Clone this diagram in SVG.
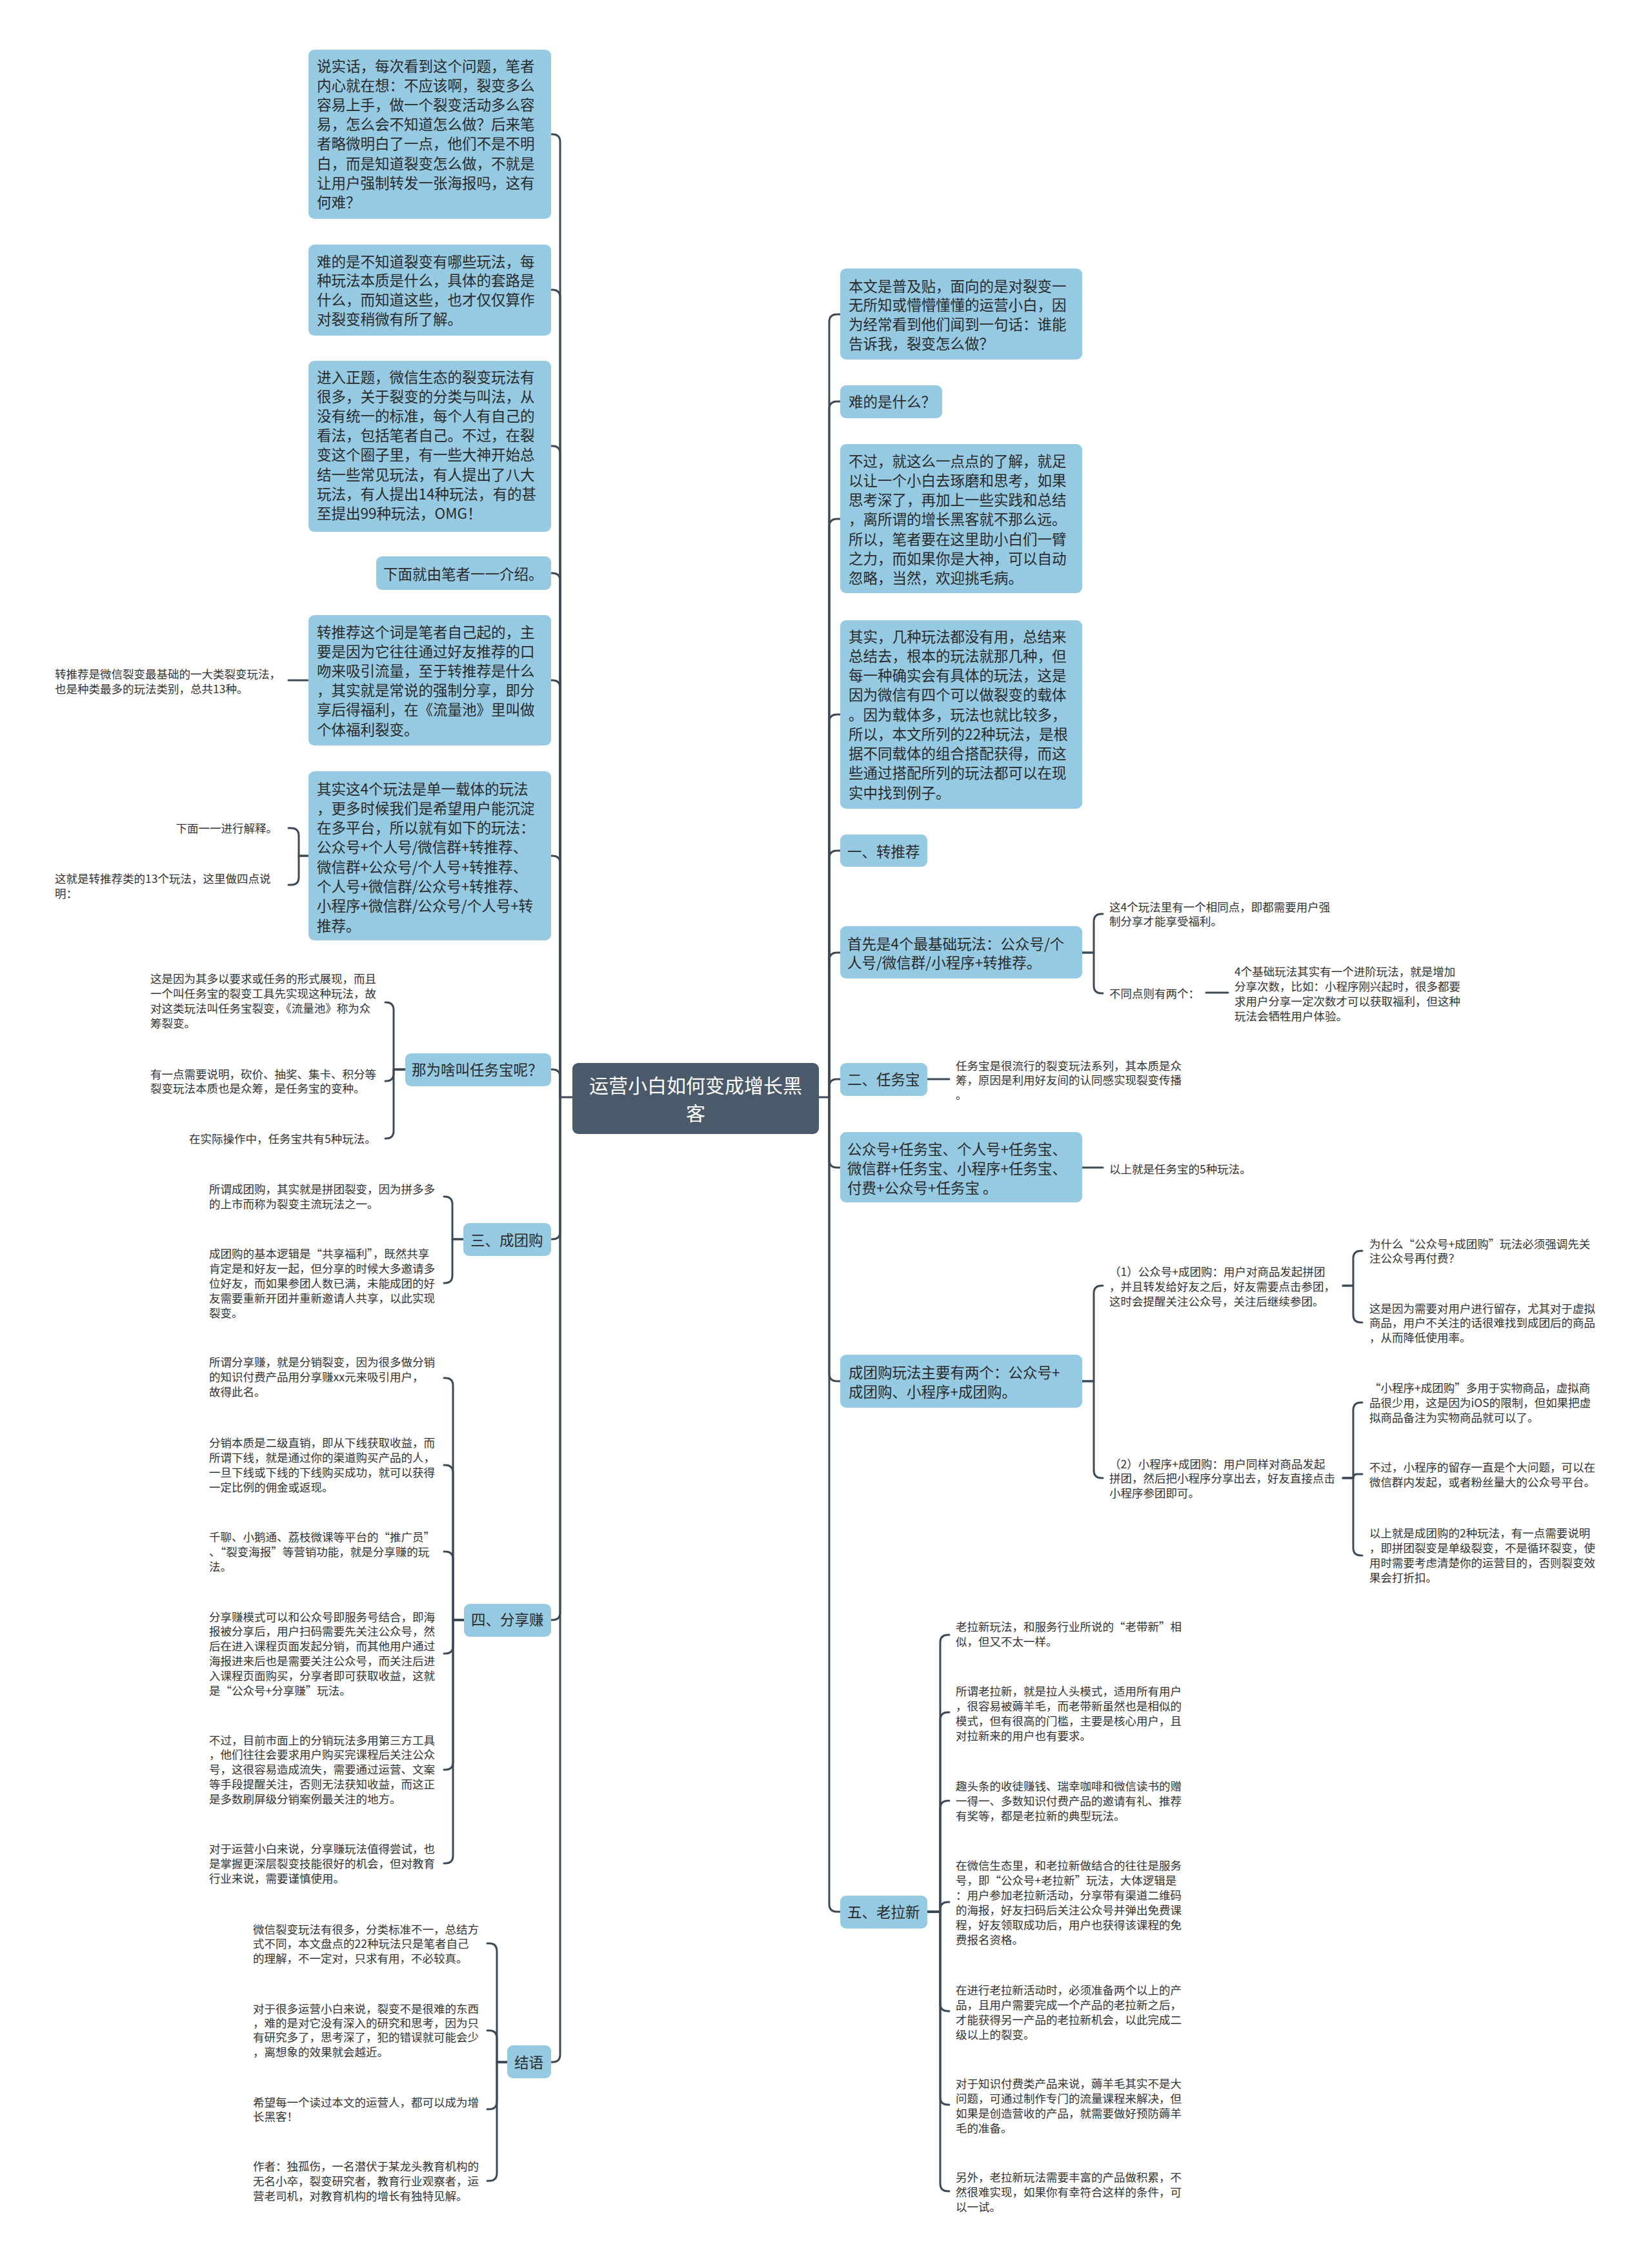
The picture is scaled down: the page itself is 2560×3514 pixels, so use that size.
<svg xmlns="http://www.w3.org/2000/svg" width="2560" height="3514" viewBox="0 0 2560 3514">
<style>
.bg{fill:#ffffff}
.box{fill:#96cae3}
.root{fill:#4b5a6a}
.bt{font-family:"Noto Sans CJK SC","Noto Sans",sans-serif;font-size:22.5px;fill:#2a2a2a}
.lf{font-family:"Noto Sans CJK SC","Noto Sans",sans-serif;font-size:17.5px;fill:#333333}
.rt{font-family:"Noto Sans CJK SC","Noto Sans",sans-serif;font-size:30px;fill:#ffffff;text-anchor:middle}
.ln{fill:none;stroke:#3d4a56;stroke-width:3;stroke-linecap:round;stroke-linejoin:round}
</style>
<rect class="bg" x="0" y="0" width="2560" height="3514"/>

<g id="connectors">
<!-- left trunk -->
<path class="ln" d="M887,1700 H868"/>
<path class="ln" d="M868,1700 V220 Q868,208 856,208 H854"/>
<path class="ln" d="M868,1700 V461 Q868,449 856,449 H854"/>
<path class="ln" d="M868,1700 V703 Q868,691 856,691 H854"/>
<path class="ln" d="M868,1700 V900 Q868,888 856,888 H854"/>
<path class="ln" d="M868,1700 V1066 Q868,1054 856,1054 H854"/>
<path class="ln" d="M868,1700 V1338 Q868,1326 856,1326 H854"/>
<path class="ln" d="M868,1700 V1669 Q868,1657 856,1657 H854"/>
<path class="ln" d="M868,1700 V1908 Q868,1920 856,1920 H854"/>
<path class="ln" d="M868,1700 V2498 Q868,2510 856,2510 H854"/>
<path class="ln" d="M868,1700 V3183 Q868,3195 856,3195 H854"/>
<!-- right trunk -->
<path class="ln" d="M1269,1700 H1285"/>
<path class="ln" d="M1285,1700 V499 Q1285,487 1297,487 H1302"/>
<path class="ln" d="M1285,1700 V634 Q1285,622 1297,622 H1302"/>
<path class="ln" d="M1285,1700 V816 Q1285,804 1297,804 H1302"/>
<path class="ln" d="M1285,1700 V1119 Q1285,1107 1297,1107 H1302"/>
<path class="ln" d="M1285,1700 V1330 Q1285,1318 1297,1318 H1302"/>
<path class="ln" d="M1285,1700 V1488 Q1285,1476 1297,1476 H1302"/>
<path class="ln" d="M1285,1700 V1684 Q1285,1672 1297,1672 H1302"/>
<path class="ln" d="M1285,1700 V1797 Q1285,1809 1297,1809 H1302"/>
<path class="ln" d="M1285,1700 V2128 Q1285,2140 1297,2140 H1302"/>
<path class="ln" d="M1285,1700 V2950 Q1285,2962 1297,2962 H1302"/>
<!-- left leaf brackets -->
<path class="ln" d="M477,1054 H447"/>
<path class="ln" d="M477,1326 H463 V1295 Q463,1283 451,1283 H447"/>
<path class="ln" d="M477,1326 H463 V1359 Q463,1371 451,1371 H447"/>
<path class="ln" d="M628,1657 H610 V1565 Q610,1553 598,1553 H597"/>
<path class="ln" d="M628,1657 H610 V1663 Q610,1675 598,1675 H597"/>
<path class="ln" d="M628,1657 H610 V1752 Q610,1764 598,1764 H597"/>
<path class="ln" d="M718,1920 H701 V1866 Q701,1854 689,1854 H688"/>
<path class="ln" d="M718,1920 H701 V1976 Q701,1988 689,1988 H688"/>
<path class="ln" d="M719,2510 H702 V2147 Q702,2135 690,2135 H688"/>
<path class="ln" d="M719,2510 H702 V2282 Q702,2270 690,2270 H688"/>
<path class="ln" d="M719,2510 H702 V2416 Q702,2404 690,2404 H688"/>
<path class="ln" d="M719,2510 H702 V2550 Q702,2562 690,2562 H688"/>
<path class="ln" d="M719,2510 H702 V2730 Q702,2742 690,2742 H688"/>
<path class="ln" d="M719,2510 H702 V2875 Q702,2887 690,2887 H688"/>
<path class="ln" d="M786,3195 H770 V3023 Q770,3011 758,3011 H755"/>
<path class="ln" d="M786,3195 H770 V3158 Q770,3146 758,3146 H755"/>
<path class="ln" d="M786,3195 H770 V3256 Q770,3268 758,3268 H755"/>
<path class="ln" d="M786,3195 H770 V3367 Q770,3379 758,3379 H755"/>
<!-- right leaf brackets -->
<path class="ln" d="M1677,1476 H1695 V1428 Q1695,1416 1707,1416 H1709"/>
<path class="ln" d="M1677,1476 H1695 V1527 Q1695,1539 1707,1539 H1709"/>
<path class="ln" d="M1869,1538 H1903"/>
<path class="ln" d="M1437,1672 H1471"/>
<path class="ln" d="M1677,1809 H1709"/>
<path class="ln" d="M1677,2140 H1695 V2004 Q1695,1992 1707,1992 H1709"/>
<path class="ln" d="M1677,2140 H1695 V2278 Q1695,2290 1707,2290 H1709"/>
<path class="ln" d="M2081,1992 H2097 V1950 Q2097,1938 2109,1938 H2111"/>
<path class="ln" d="M2081,1992 H2097 V2037 Q2097,2049 2109,2049 H2111"/>
<path class="ln" d="M2081,2290 H2097 V2185 Q2097,2173 2109,2173 H2111"/>
<path class="ln" d="M2081,2290 H2097 Q2097,2284 2103,2284 H2111"/>
<path class="ln" d="M2081,2290 H2097 V2398 Q2097,2410 2109,2410 H2111"/>
<path class="ln" d="M1437,2962 H1457 V2545 Q1457,2533 1469,2533 H1471"/>
<path class="ln" d="M1437,2962 H1457 V2665 Q1457,2653 1469,2653 H1471"/>
<path class="ln" d="M1437,2962 H1457 V2802 Q1457,2790 1469,2790 H1471"/>
<path class="ln" d="M1437,2962 H1457 V2959 Q1457,2947 1469,2947 H1471"/>
<path class="ln" d="M1437,2962 H1457 V3104 Q1457,3116 1469,3116 H1471"/>
<path class="ln" d="M1437,2962 H1457 V3249 Q1457,3261 1469,3261 H1471"/>
<path class="ln" d="M1437,2962 H1457 V3383 Q1457,3395 1469,3395 H1471"/>
</g>

<g id="root">
<rect class="root" x="887" y="1647" width="382" height="110" rx="9"/>
<text class="rt" x="1078" y="1693.4">运营小白如何变成增长黑</text>
<text class="rt" x="1078" y="1736.4">客</text>
</g>

<g id="nodeA">
<rect class="box" x="478" y="77" width="376" height="262" rx="9"/>
<text class="bt" x="491" y="110.5"><tspan x="491">说实话，每次看到这个问题，笔者</tspan><tspan x="491" dy="30.2">内心就在想：不应该啊，裂变多么</tspan><tspan x="491" dy="30.2">容易上手，做一个裂变活动多么容</tspan><tspan x="491" dy="30.2">易，怎么会不知道怎么做？后来笔</tspan><tspan x="491" dy="30.2">者略微明白了一点，他们不是不明</tspan><tspan x="491" dy="30.2">白，而是知道裂变怎么做，不就是</tspan><tspan x="491" dy="30.2">让用户强制转发一张海报吗，这有</tspan><tspan x="491" dy="30.2">何难？</tspan></text>
</g>
<g id="nodeB">
<rect class="box" x="478" y="379" width="376" height="141" rx="9"/>
<text class="bt" x="491" y="413.5"><tspan x="491">难的是不知道裂变有哪些玩法，每</tspan><tspan x="491" dy="29.8">种玩法本质是什么，具体的套路是</tspan><tspan x="491" dy="29.8">什么，而知道这些，也才仅仅算作</tspan><tspan x="491" dy="29.8">对裂变稍微有所了解。</tspan></text>
</g>
<g id="nodeC">
<rect class="box" x="478" y="559" width="376" height="265" rx="9"/>
<text class="bt" x="491" y="592.5"><tspan x="491">进入正题，微信生态的裂变玩法有</tspan><tspan x="491" dy="30.2">很多，关于裂变的分类与叫法，从</tspan><tspan x="491" dy="30.2">没有统一的标准，每个人有自己的</tspan><tspan x="491" dy="30.2">看法，包括笔者自己。不过，在裂</tspan><tspan x="491" dy="30.2">变这个圈子里，有一些大神开始总</tspan><tspan x="491" dy="30.2">结一些常见玩法，有人提出了八大</tspan><tspan x="491" dy="30.2">玩法，有人提出14种玩法，有的甚</tspan><tspan x="491" dy="30.2">至提出99种玩法，OMG！</tspan></text>
</g>
<g id="nodeD">
<rect class="box" x="583" y="862" width="271" height="52" rx="9"/>
<text class="bt" x="594" y="897.5">下面就由笔者一一介绍。</text>
</g>
<g id="nodeE">
<rect class="box" x="478" y="953" width="376" height="202" rx="9"/>
<text class="bt" x="491" y="987.5"><tspan x="491">转推荐这个词是笔者自己起的，主</tspan><tspan x="491" dy="30.2">要是因为它往往通过好友推荐的口</tspan><tspan x="491" dy="30.2">吻来吸引流量，至于转推荐是什么</tspan><tspan x="491" dy="30.2">，其实就是常说的强制分享，即分</tspan><tspan x="491" dy="30.2">享后得福利，在《流量池》里叫做</tspan><tspan x="491" dy="30.2">个体福利裂变。</tspan></text>
</g>
<g id="leafE">
<text class="lf" x="85" y="1050.6"><tspan x="85">转推荐是微信裂变最基础的一大类裂变玩法，</tspan><tspan x="85" dy="23">也是种类最多的玩法类别，总共13种。</tspan></text>
</g>
<g id="nodeF">
<rect class="box" x="478" y="1195" width="376" height="262" rx="9"/>
<text class="bt" x="491" y="1230.5"><tspan x="491">其实这4个玩法是单一载体的玩法</tspan><tspan x="491" dy="30.3">，更多时候我们是希望用户能沉淀</tspan><tspan x="491" dy="30.3">在多平台，所以就有如下的玩法：</tspan><tspan x="491" dy="30.3">公众号+个人号/微信群+转推荐、</tspan><tspan x="491" dy="30.3">微信群+公众号/个人号+转推荐、</tspan><tspan x="491" dy="30.3">个人号+微信群/公众号+转推荐、</tspan><tspan x="491" dy="30.3">小程序+微信群/公众号/个人号+转</tspan><tspan x="491" dy="30.3">推荐。</tspan></text>
</g>
<g id="leafF1"><text class="lf" x="430" y="1289.6" text-anchor="end">下面一一进行解释。</text></g>
<g id="leafF2"><text class="lf" x="85" y="1367.6"><tspan x="85">这就是转推荐类的13个玩法，这里做四点说</tspan><tspan x="85" dy="23">明：</tspan></text></g>

<g id="nodeG">
<rect class="box" x="628" y="1632" width="226" height="51" rx="9"/>
<text class="bt" x="638" y="1665.5">那为啥叫任务宝呢？</text>
</g>
<g id="leafG1"><text class="lf" x="233" y="1522.6"><tspan x="233">这是因为其多以要求或任务的形式展现，而且</tspan><tspan x="233" dy="23">一个叫任务宝的裂变工具先实现这种玩法，故</tspan><tspan x="233" dy="23">对这类玩法叫任务宝裂变，《流量池》称为众</tspan><tspan x="233" dy="23">筹裂变。</tspan></text></g>
<g id="leafG2"><text class="lf" x="233" y="1670.6"><tspan x="233">有一点需要说明，砍价、抽奖、集卡、积分等</tspan><tspan x="233" dy="22.5">裂变玩法本质也是众筹，是任务宝的变种。</tspan></text></g>
<g id="leafG3"><text class="lf" x="293" y="1770.6">在实际操作中，任务宝共有5种玩法。</text></g>

<g id="nodeH">
<rect class="box" x="718" y="1895" width="136" height="51" rx="9"/>
<text class="bt" x="729" y="1929.5">三、成团购</text>
</g>
<g id="leafH1"><text class="lf" x="324" y="1848.6"><tspan x="324">所谓成团购，其实就是拼团裂变，因为拼多多</tspan><tspan x="324" dy="23.5">的上市而称为裂变主流玩法之一。</tspan></text></g>
<g id="leafH2"><text class="lf" x="324" y="1948.6"><tspan x="324">成团购的基本逻辑是“共享福利”，既然共享</tspan><tspan x="324" dy="23.2">肯定是和好友一起，但分享的时候大多邀请多</tspan><tspan x="324" dy="23.2">位好友，而如果参团人数已满，未能成团的好</tspan><tspan x="324" dy="23.2">友需要重新开团并重新邀请人共享，以此实现</tspan><tspan x="324" dy="23.2">裂变。</tspan></text></g>

<g id="nodeI">
<rect class="box" x="719" y="2485" width="135" height="51" rx="9"/>
<text class="bt" x="730" y="2517.5">四、分享赚</text>
</g>
<g id="leafI1"><text class="lf" x="324" y="2116.6"><tspan x="324">所谓分享赚，就是分销裂变，因为很多做分销</tspan><tspan x="324" dy="23">的知识付费产品用分享赚xx元来吸引用户，</tspan><tspan x="324" dy="23">故得此名。</tspan></text></g>
<g id="leafI2"><text class="lf" x="324" y="2241.6"><tspan x="324">分销本质是二级直销，即从下线获取收益，而</tspan><tspan x="324" dy="23">所谓下线，就是通过你的渠道购买产品的人，</tspan><tspan x="324" dy="23">一旦下线或下线的下线购买成功，就可以获得</tspan><tspan x="324" dy="23">一定比例的佣金或返现。</tspan></text></g>
<g id="leafI3"><text class="lf" x="324" y="2387.6"><tspan x="324">千聊、小鹅通、荔枝微课等平台的“推广员”</tspan><tspan x="324" dy="23">、“裂变海报”等营销功能，就是分享赚的玩</tspan><tspan x="324" dy="23">法。</tspan></text></g>
<g id="leafI4"><text class="lf" x="324" y="2511.6"><tspan x="324">分享赚模式可以和公众号即服务号结合，即海</tspan><tspan x="324" dy="22.8">报被分享后，用户扫码需要先关注公众号，然</tspan><tspan x="324" dy="22.8">后在进入课程页面发起分销，而其他用户通过</tspan><tspan x="324" dy="22.8">海报进来后也是需要关注公众号，而关注后进</tspan><tspan x="324" dy="22.8">入课程页面购买，分享者即可获取收益，这就</tspan><tspan x="324" dy="22.8">是“公众号+分享赚”玩法。</tspan></text></g>
<g id="leafI5"><text class="lf" x="324" y="2702.6"><tspan x="324">不过，目前市面上的分销玩法多用第三方工具</tspan><tspan x="324" dy="22.8">，他们往往会要求用户购买完课程后关注公众</tspan><tspan x="324" dy="22.8">号，这很容易造成流失，需要通过运营、文案</tspan><tspan x="324" dy="22.8">等手段提醒关注，否则无法获知收益，而这正</tspan><tspan x="324" dy="22.8">是多数刷屏级分销案例最关注的地方。</tspan></text></g>
<g id="leafI6"><text class="lf" x="324" y="2870.6"><tspan x="324">对于运营小白来说，分享赚玩法值得尝试，也</tspan><tspan x="324" dy="23">是掌握更深层裂变技能很好的机会，但对教育</tspan><tspan x="324" dy="23">行业来说，需要谨慎使用。</tspan></text></g>

<g id="nodeJ">
<rect class="box" x="786" y="3169" width="68" height="51" rx="9"/>
<text class="bt" x="797" y="3203.5">结语</text>
</g>
<g id="leafJ1"><text class="lf" x="392" y="2995.6"><tspan x="392">微信裂变玩法有很多，分类标准不一，总结方</tspan><tspan x="392" dy="22.5">式不同，本文盘点的22种玩法只是笔者自己</tspan><tspan x="392" dy="22.5">的理解，不一定对，只求有用，不必较真。</tspan></text></g>
<g id="leafJ2"><text class="lf" x="392" y="3118.6"><tspan x="392">对于很多运营小白来说，裂变不是很难的东西</tspan><tspan x="392" dy="22.4">，难的是对它没有深入的研究和思考，因为只</tspan><tspan x="392" dy="22.4">有研究多了，思考深了，犯的错误就可能会少</tspan><tspan x="392" dy="22.4">，离想象的效果就会越近。</tspan></text></g>
<g id="leafJ3"><text class="lf" x="392" y="3263.6"><tspan x="392">希望每一个读过本文的运营人，都可以成为增</tspan><tspan x="392" dy="22.5">长黑客！</tspan></text></g>
<g id="leafJ4"><text class="lf" x="392" y="3362.6"><tspan x="392">作者：独孤伤，一名潜伏于某龙头教育机构的</tspan><tspan x="392" dy="23">无名小卒，裂变研究者，教育行业观察者，运</tspan><tspan x="392" dy="23">营老司机，对教育机构的增长有独特见解。</tspan></text></g>

<g id="nodeR1">
<rect class="box" x="1302" y="416" width="375" height="141" rx="9"/>
<text class="bt" x="1315" y="451.5"><tspan x="1315">本文是普及贴，面向的是对裂变一</tspan><tspan x="1315" dy="29.8">无所知或懵懵懂懂的运营小白，因</tspan><tspan x="1315" dy="29.8">为经常看到他们闻到一句话：谁能</tspan><tspan x="1315" dy="29.8">告诉我，裂变怎么做？</tspan></text>
</g>
<g id="nodeR2">
<rect class="box" x="1302" y="597" width="158" height="51" rx="9"/>
<text class="bt" x="1315" y="630.5">难的是什么？</text>
</g>
<g id="nodeR3">
<rect class="box" x="1302" y="688" width="375" height="231" rx="9"/>
<text class="bt" x="1315" y="722.5"><tspan x="1315">不过，就这么一点点的了解，就足</tspan><tspan x="1315" dy="30.3">以让一个小白去琢磨和思考，如果</tspan><tspan x="1315" dy="30.3">思考深了，再加上一些实践和总结</tspan><tspan x="1315" dy="30.3">，离所谓的增长黑客就不那么远。</tspan><tspan x="1315" dy="30.3">所以，笔者要在这里助小白们一臂</tspan><tspan x="1315" dy="30.3">之力，而如果你是大神，可以自动</tspan><tspan x="1315" dy="30.3">忽略，当然，欢迎挑毛病。</tspan></text>
</g>
<g id="nodeR4">
<rect class="box" x="1302" y="961" width="375" height="292" rx="9"/>
<text class="bt" x="1315" y="994.5"><tspan x="1315">其实，几种玩法都没有用，总结来</tspan><tspan x="1315" dy="30.25">总结去，根本的玩法就那几种，但</tspan><tspan x="1315" dy="30.25">每一种确实会有具体的玩法，这是</tspan><tspan x="1315" dy="30.25">因为微信有四个可以做裂变的载体</tspan><tspan x="1315" dy="30.25">。因为载体多，玩法也就比较多，</tspan><tspan x="1315" dy="30.25">所以，本文所列的22种玩法，是根</tspan><tspan x="1315" dy="30.25">据不同载体的组合搭配获得，而这</tspan><tspan x="1315" dy="30.25">些通过搭配所列的玩法都可以在现</tspan><tspan x="1315" dy="30.25">实中找到例子。</tspan></text>
</g>
<g id="nodeR5">
<rect class="box" x="1302" y="1293" width="135" height="50" rx="9"/>
<text class="bt" x="1313" y="1327.5">一、转推荐</text>
</g>
<g id="nodeR6">
<rect class="box" x="1302" y="1435" width="375" height="81" rx="9"/>
<text class="bt" x="1313" y="1470.5"><tspan x="1313">首先是4个最基础玩法：公众号/个</tspan><tspan x="1313" dy="29.5">人号/微信群/小程序+转推荐。</tspan></text>
</g>
<g id="leafR6a"><text class="lf" x="1719" y="1411.6"><tspan x="1719">这4个玩法里有一个相同点，即都需要用户强</tspan><tspan x="1719" dy="22">制分享才能享受福利。</tspan></text></g>
<g id="leafR6b"><text class="lf" x="1719" y="1545.6">不同点则有两个：</text></g>
<g id="leafR6c"><text class="lf" x="1913" y="1511.6"><tspan x="1913">4个基础玩法其实有一个进阶玩法，就是增加</tspan><tspan x="1913" dy="23">分享次数，比如：小程序刚兴起时，很多都要</tspan><tspan x="1913" dy="23">求用户分享一定次数才可以获取福利，但这种</tspan><tspan x="1913" dy="23">玩法会牺牲用户体验。</tspan></text></g>
<g id="nodeR7">
<rect class="box" x="1302" y="1647" width="135" height="51" rx="9"/>
<text class="bt" x="1313" y="1680.5">二、任务宝</text>
</g>
<g id="leafR7"><text class="lf" x="1481" y="1657.6"><tspan x="1481">任务宝是很流行的裂变玩法系列，其本质是众</tspan><tspan x="1481" dy="22.5">筹，原因是利用好友间的认同感实现裂变传播</tspan><tspan x="1481" dy="22.5">。</tspan></text></g>
<g id="nodeR8">
<rect class="box" x="1302" y="1754" width="375" height="109" rx="9"/>
<text class="bt" x="1313" y="1788.5"><tspan x="1313">公众号+任务宝、个人号+任务宝、</tspan><tspan x="1313" dy="30">微信群+任务宝、小程序+任务宝、</tspan><tspan x="1313" dy="30">付费+公众号+任务宝 。</tspan></text>
</g>
<g id="leafR8"><text class="lf" x="1719" y="1817.6">以上就是任务宝的5种玩法。</text></g>
<g id="nodeR9">
<rect class="box" x="1302" y="2099" width="375" height="82" rx="9"/>
<text class="bt" x="1315" y="2134.5"><tspan x="1315">成团购玩法主要有两个：公众号+</tspan><tspan x="1315" dy="30">成团购、小程序+成团购。</tspan></text>
</g>
<g id="leafR9a"><text class="lf" x="1719" y="1976.6"><tspan x="1719">（1）公众号+成团购：用户对商品发起拼团</tspan><tspan x="1719" dy="23">，并且转发给好友之后，好友需要点击参团，</tspan><tspan x="1719" dy="23">这时会提醒关注公众号，关注后继续参团。</tspan></text></g>
<g id="leafR9a1"><text class="lf" x="2122" y="1933.6"><tspan x="2122">为什么“公众号+成团购”玩法必须强调先关</tspan><tspan x="2122" dy="22.5">注公众号再付费？</tspan></text></g>
<g id="leafR9a2"><text class="lf" x="2122" y="2033.6"><tspan x="2122">这是因为需要对用户进行留存，尤其对于虚拟</tspan><tspan x="2122" dy="22.5">商品，用户不关注的话很难找到成团后的商品</tspan><tspan x="2122" dy="22.5">，从而降低使用率。</tspan></text></g>
<g id="leafR9b"><text class="lf" x="1719" y="2274.6"><tspan x="1719">（2）小程序+成团购：用户同样对商品发起</tspan><tspan x="1719" dy="22.5">拼团，然后把小程序分享出去，好友直接点击</tspan><tspan x="1719" dy="22.5">小程序参团即可。</tspan></text></g>
<g id="leafR9b1"><text class="lf" x="2122" y="2156.6"><tspan x="2122">“小程序+成团购”多用于实物商品，虚拟商</tspan><tspan x="2122" dy="23">品很少用，这是因为iOS的限制，但如果把虚</tspan><tspan x="2122" dy="23">拟商品备注为实物商品就可以了。</tspan></text></g>
<g id="leafR9b2"><text class="lf" x="2122" y="2279.6"><tspan x="2122">不过，小程序的留存一直是个大问题，可以在</tspan><tspan x="2122" dy="23">微信群内发起，或者粉丝量大的公众号平台。</tspan></text></g>
<g id="leafR9b3"><text class="lf" x="2122" y="2381.6"><tspan x="2122">以上就是成团购的2种玩法，有一点需要说明</tspan><tspan x="2122" dy="23">，即拼团裂变是单级裂变，不是循环裂变，使</tspan><tspan x="2122" dy="23">用时需要考虑清楚你的运营目的，否则裂变效</tspan><tspan x="2122" dy="23">果会打折扣。</tspan></text></g>
<g id="nodeR10">
<rect class="box" x="1302" y="2937" width="135" height="51" rx="9"/>
<text class="bt" x="1313" y="2970.5">五、老拉新</text>
</g>
<g id="leafR10a"><text class="lf" x="1481" y="2526.6"><tspan x="1481">老拉新玩法，和服务行业所说的“老带新”相</tspan><tspan x="1481" dy="23">似，但又不太一样。</tspan></text></g>
<g id="leafR10b"><text class="lf" x="1481" y="2626.6"><tspan x="1481">所谓老拉新，就是拉人头模式，适用所有用户</tspan><tspan x="1481" dy="23">，很容易被薅羊毛，而老带新虽然也是相似的</tspan><tspan x="1481" dy="23">模式，但有很高的门槛，主要是核心用户，且</tspan><tspan x="1481" dy="23">对拉新来的用户也有要求。</tspan></text></g>
<g id="leafR10c"><text class="lf" x="1481" y="2773.6"><tspan x="1481">趣头条的收徒赚钱、瑞幸咖啡和微信读书的赠</tspan><tspan x="1481" dy="23">一得一、多数知识付费产品的邀请有礼、推荐</tspan><tspan x="1481" dy="23">有奖等，都是老拉新的典型玩法。</tspan></text></g>
<g id="leafR10d"><text class="lf" x="1481" y="2896.6"><tspan x="1481">在微信生态里，和老拉新做结合的往往是服务</tspan><tspan x="1481" dy="23">号，即“公众号+老拉新”玩法，大体逻辑是</tspan><tspan x="1481" dy="23">：用户参加老拉新活动，分享带有渠道二维码</tspan><tspan x="1481" dy="23">的海报，好友扫码后关注公众号并弹出免费课</tspan><tspan x="1481" dy="23">程，好友领取成功后，用户也获得该课程的免</tspan><tspan x="1481" dy="23">费报名资格。</tspan></text></g>
<g id="leafR10e"><text class="lf" x="1481" y="3089.6"><tspan x="1481">在进行老拉新活动时，必须准备两个以上的产</tspan><tspan x="1481" dy="23">品，且用户需要完成一个产品的老拉新之后，</tspan><tspan x="1481" dy="23">才能获得另一产品的老拉新机会，以此完成二</tspan><tspan x="1481" dy="23">级以上的裂变。</tspan></text></g>
<g id="leafR10f"><text class="lf" x="1481" y="3234.6"><tspan x="1481">对于知识付费类产品来说，薅羊毛其实不是大</tspan><tspan x="1481" dy="23">问题，可通过制作专门的流量课程来解决，但</tspan><tspan x="1481" dy="23">如果是创造营收的产品，就需要做好预防薅羊</tspan><tspan x="1481" dy="23">毛的准备。</tspan></text></g>
<g id="leafR10g"><text class="lf" x="1481" y="3379.6"><tspan x="1481">另外，老拉新玩法需要丰富的产品做积累，不</tspan><tspan x="1481" dy="23">然很难实现，如果你有幸符合这样的条件，可</tspan><tspan x="1481" dy="23">以一试。</tspan></text></g>
</svg>
